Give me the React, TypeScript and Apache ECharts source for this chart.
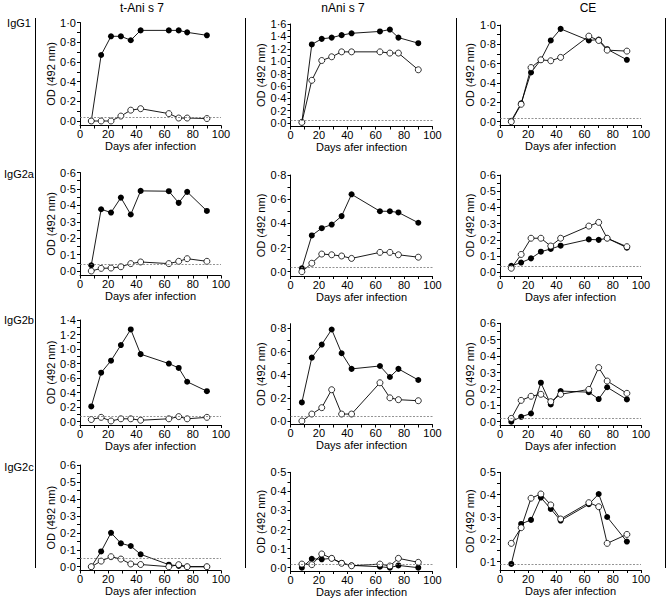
import React, { useEffect, useRef } from "react";
import * as echarts from "echarts";

const days = [8, 15, 22, 29, 36, 43, 63, 70, 76, 90];
const antigens = ["t-Ani s 7", "nAni s 7", "CE"];
const isotypes = ["IgG1", "IgG2a", "IgG2b", "IgG2c"];
const xLabelValues = [0, 20, 40, 60, 80, 100];
const xTickValues = [0, 10, 20, 30, 40, 50, 60, 70, 80, 90, 100];

// IgG1
const igg1TAniFilled = [0.0, 0.67, 0.86, 0.86, 0.82, 0.92, 0.92, 0.92, 0.9, 0.87];
const igg1TAniOpen = [0.0, 0.0, 0.0, 0.05, 0.11, 0.125, 0.075, 0.03, 0.03, 0.025];
const igg1NAniFilled = [0.01, 1.27, 1.36, 1.38, 1.42, 1.45, 1.48, 1.51, 1.38, 1.29];
const igg1NAniOpen = [0.01, 0.69, 1.01, 1.07, 1.15, 1.15, 1.15, 1.13, 1.13, 0.86];
const igg1CEFilled = [0.01, 0.19, 0.51, 0.64, 0.84, 0.96, 0.84, 0.85, 0.75, 0.64];
const igg1CEOpen = [0.0, 0.18, 0.56, 0.64, 0.63, 0.665, 0.885, 0.84, 0.74, 0.73];
// IgG2a
const igg2aTAniFilled = [0.035, 0.376, 0.356, 0.447, 0.344, 0.488, 0.486, 0.415, 0.482, 0.366];
const igg2aTAniOpen = [0.0, 0.016, 0.018, 0.026, 0.045, 0.055, 0.045, 0.059, 0.075, 0.059];
const igg2aNAniFilled = [0.028, 0.3, 0.36, 0.39, 0.46, 0.64, 0.5, 0.5, 0.49, 0.405];
const igg2aNAniOpen = [0.0, 0.07, 0.146, 0.14, 0.13, 0.11, 0.16, 0.16, 0.14, 0.12];
const igg2aCEFilled = [0.04, 0.06, 0.086, 0.127, 0.144, 0.164, 0.203, 0.2, 0.21, 0.152];
const igg2aCEOpen = [0.025, 0.11, 0.21, 0.21, 0.162, 0.21, 0.285, 0.308, 0.21, 0.158];
// IgG2b
const igg2bTAniFilled = [0.21, 0.675, 0.84, 1.055, 1.27, 0.93, 0.8, 0.74, 0.55, 0.42];
const igg2bTAniOpen = [0.03, 0.06, 0.01, 0.04, 0.04, 0.02, 0.04, 0.07, 0.04, 0.06];
const igg2bNAniFilled = [0.16, 0.547, 0.66, 0.79, 0.585, 0.45, 0.475, 0.38, 0.45, 0.354];
const igg2bNAniOpen = [0.0, 0.06, 0.115, 0.27, 0.06, 0.06, 0.33, 0.2, 0.184, 0.175];
const igg2bCEFilled = [0.0, 0.03, 0.05, 0.238, 0.105, 0.187, 0.18, 0.138, 0.21, 0.136];
const igg2bCEOpen = [0.02, 0.13, 0.155, 0.167, 0.122, 0.167, 0.197, 0.33, 0.248, 0.173];
// IgG2c
const igg2cTAniFilled = [0.0, 0.09, 0.2, 0.138, 0.122, 0.073, 0.012, 0.005, 0.0, 0.0];
const igg2cTAniOpen = [0.0, 0.033, 0.059, 0.045, 0.016, 0.013, 0.0, 0.012, 0.0, 0.0];
const igg2cNAniFilled = [0.0, 0.047, 0.044, 0.049, 0.025, 0.012, 0.005, 0.0, 0.012, 0.0];
const igg2cNAniOpen = [0.019, 0.016, 0.072, 0.049, 0.023, 0.01, 0.019, 0.009, 0.049, 0.028];
const igg2cCEFilled = [0.09, 0.269, 0.287, 0.387, 0.336, 0.284, 0.357, 0.403, 0.3, 0.19];
const igg2cCEOpen = [0.182, 0.252, 0.384, 0.403, 0.354, 0.291, 0.364, 0.346, 0.182, 0.222];

// cut-off (dotted) levels per isotype row, per antigen column
const cutoffsIgG1 = [0.035, 0.05, 0.04];
const cutoffsIgG2a = [0.045, 0.04, 0.04];
const cutoffsIgG2b = [0.08, 0.037, 0.02];
const cutoffsIgG2c = [0.05, 0.023, 0.093];

// y tick label sets
const yLabels10 = [0, 0.2, 0.4, 0.6, 0.8, 1.0];
const yLabels16 = [0, 0.2, 0.4, 0.6, 0.8, 1.0, 1.2, 1.4, 1.6];
const yLabels14 = [0, 0.2, 0.4, 0.6, 0.8, 1.0, 1.2, 1.4];
const yLabels08 = [0, 0.2, 0.4, 0.6, 0.8];
const yLabels06 = [0, 0.1, 0.2, 0.3, 0.4, 0.5, 0.6];
const yLabels05 = [0, 0.1, 0.2, 0.3, 0.4, 0.5];
const yLabels05from01 = [0.1, 0.2, 0.3, 0.4, 0.5];

const filledRows = [
  [igg1TAniFilled, igg1NAniFilled, igg1CEFilled],
  [igg2aTAniFilled, igg2aNAniFilled, igg2aCEFilled],
  [igg2bTAniFilled, igg2bNAniFilled, igg2bCEFilled],
  [igg2cTAniFilled, igg2cNAniFilled, igg2cCEFilled],
];
const openRows = [
  [igg1TAniOpen, igg1NAniOpen, igg1CEOpen],
  [igg2aTAniOpen, igg2aNAniOpen, igg2aCEOpen],
  [igg2bTAniOpen, igg2bNAniOpen, igg2bCEOpen],
  [igg2cTAniOpen, igg2cNAniOpen, igg2cCEOpen],
];
const cutoffRows = [cutoffsIgG1, cutoffsIgG2a, cutoffsIgG2b, cutoffsIgG2c];
const labelRows = [
  [yLabels10, yLabels16, yLabels10],
  [yLabels06, yLabels08, yLabels06],
  [yLabels14, yLabels08, yLabels06],
  [yLabels06, yLabels05, yLabels05from01],
];

// layout (pixels): per panel top px of axis max, px of lowest label, px of x-axis line, axis max
const scaleLayout = [
  [
    { max: 1.0, topPx: 22.5, lowPx: 121, axisPx: 125.5 },
    { max: 1.6, topPx: 24, lowPx: 123, axisPx: 126.5 },
    { max: 1.0, topPx: 25, lowPx: 121.7, axisPx: 125 },
  ],
  [
    { max: 0.6, topPx: 172.5, lowPx: 271, axisPx: 275.5 },
    { max: 0.8, topPx: 175, lowPx: 271.7, axisPx: 276 },
    { max: 0.6, topPx: 175, lowPx: 272.3, axisPx: 276 },
  ],
  [
    { max: 1.4, topPx: 320, lowPx: 421.7, axisPx: 425 },
    { max: 0.84, topPx: 323.7, lowPx: 421, axisPx: 424.5 },
    { max: 0.6, topPx: 323.3, lowPx: 421.7, axisPx: 425 },
  ],
  [
    { max: 0.6, topPx: 465, lowPx: 566.7, axisPx: 570.5 },
    { max: 0.5, topPx: 472.3, lowPx: 567.7, axisPx: 571 },
    { max: 0.5, topPx: 472.3, lowPx: 561.7, axisPx: 570 },
  ],
];
const colLeft = [80, 290.5, 500];
const colWidth = [141, 142, 141];
const yNameGap = [24, 24, 25];

const FONT = "'Liberation Sans', Arial, Helvetica, sans-serif";
const fmt = (v: number) => v.toFixed(1).replace(".", "\u00b7");

export default function App() {
  const ref = useRef<HTMLDivElement>(null);
  useEffect(() => {
    if (!ref.current) return;
    const chart = echarts.init(ref.current, null, { renderer: "svg" });
    const grids: any[] = [];
    const xAxes: any[] = [];
    const yAxes: any[] = [];
    const series: any[] = [];
    const axisLineStyle = { color: "#000", width: 1 };
    for (let r = 0; r < 4; r++) {
      for (let c = 0; c < 3; c++) {
        const i = r * 3 + c;
        const sc = scaleLayout[r][c];
        const labels = labelRows[r][c];
        const step = labels[1] - labels[0];
        const ticks: number[] = [];
        for (let k = 0; k <= (labels.length - 1) * 2; k++) {
          ticks.push(Math.round((labels[0] + (k * step) / 2) * 1000) / 1000);
        }
        const low = labels[0];
        const min = low - ((sc.axisPx - sc.lowPx) * (sc.max - low)) / (sc.lowPx - sc.topPx);
        grids.push({
          left: colLeft[c],
          width: colWidth[c],
          top: sc.topPx,
          height: sc.axisPx - sc.topPx,
        });
        xAxes.push({
          type: "value",
          gridIndex: i,
          min: 0,
          max: 100,
          name: "Days afer infection",
          nameLocation: "middle",
          nameGap: 15,
          nameTextStyle: { fontFamily: FONT, fontSize: 11, color: "#000" },
          axisLine: { onZero: false, lineStyle: axisLineStyle },
          axisTick: { show: true, customValues: xTickValues, length: 3, lineStyle: axisLineStyle },
          axisLabel: {
            customValues: xLabelValues,
            margin: 3,
            fontFamily: FONT,
            fontSize: 11,
            color: "#000",
          },
          splitLine: { show: false },
        });
        yAxes.push({
          type: "value",
          gridIndex: i,
          min,
          max: sc.max,
          name: "OD (492 nm)",
          nameLocation: "middle",
          nameGap: yNameGap[c],
          nameTextStyle: { fontFamily: FONT, fontSize: 11, color: "#000" },
          axisLine: { show: true, onZero: false, lineStyle: axisLineStyle },
          axisTick: { show: true, customValues: ticks, length: 3, lineStyle: axisLineStyle },
          axisLabel: {
            customValues: labels,
            margin: 4,
            fontFamily: FONT,
            fontSize: 11,
            color: "#000",
            formatter: (v: number) => fmt(v),
          },
          splitLine: { show: false },
        });
        series.push({
          type: "line",
          name: "filled",
          xAxisIndex: i,
          yAxisIndex: i,
          data: days.map((d, k) => [d, filledRows[r][c][k]]),
          symbol: "circle",
          symbolSize: 6,
          itemStyle: { color: "#000" },
          lineStyle: { color: "#000", width: 0.9 },
          z: 3,
          markLine: {
            silent: true,
            symbol: "none",
            label: { show: false },
            lineStyle: { type: [2, 1.5], color: "#777", width: 0.8 },
            data: [{ yAxis: cutoffRows[r][c] }],
          },
        });
        series.push({
          type: "line",
          name: "open",
          xAxisIndex: i,
          yAxisIndex: i,
          data: days.map((d, k) => [d, openRows[r][c][k]]),
          symbol: "circle",
          symbolSize: 6,
          itemStyle: { color: "#fff", borderColor: "#000", borderWidth: 0.8 },
          lineStyle: { color: "#000", width: 0.9 },
          z: 4,
        });
      }
    }
    const graphics: any[] = [];
    const titleX = [142, 343, 588];
    antigens.forEach((t, c) => {
      graphics.push({
        type: "text",
        x: titleX[c],
        y: 8,
        style: {
          text: t,
          fontFamily: FONT,
          fontSize: 12,
          fill: "#000",
          textAlign: "center",
          textVerticalAlign: "middle",
        },
      });
    });
    const rowY = [23, 174, 320, 467];
    isotypes.forEach((t, r) => {
      graphics.push({
        type: "text",
        x: 19,
        y: rowY[r],
        style: {
          text: t,
          fontFamily: FONT,
          fontSize: 11,
          fill: "#000",
          textAlign: "center",
          textVerticalAlign: "middle",
        },
      });
    });
    [35.5, 245.5, 456.5, 665.5].forEach((x) => {
      graphics.push({
        type: "line",
        shape: { x1: x, y1: 18, x2: x, y2: 568 },
        style: { stroke: "#000", lineWidth: 1 },
      });
    });
    chart.setOption({
      animation: false,
      backgroundColor: "#fff",
      grid: grids,
      xAxis: xAxes,
      yAxis: yAxes,
      series,
      graphic: graphics,
    });
    return () => chart.dispose();
  }, []);
  return (
    <div
      ref={ref}
      style={{ position: "absolute", left: 0, top: 0, width: 666, height: 598 }}
    />
  );
}
